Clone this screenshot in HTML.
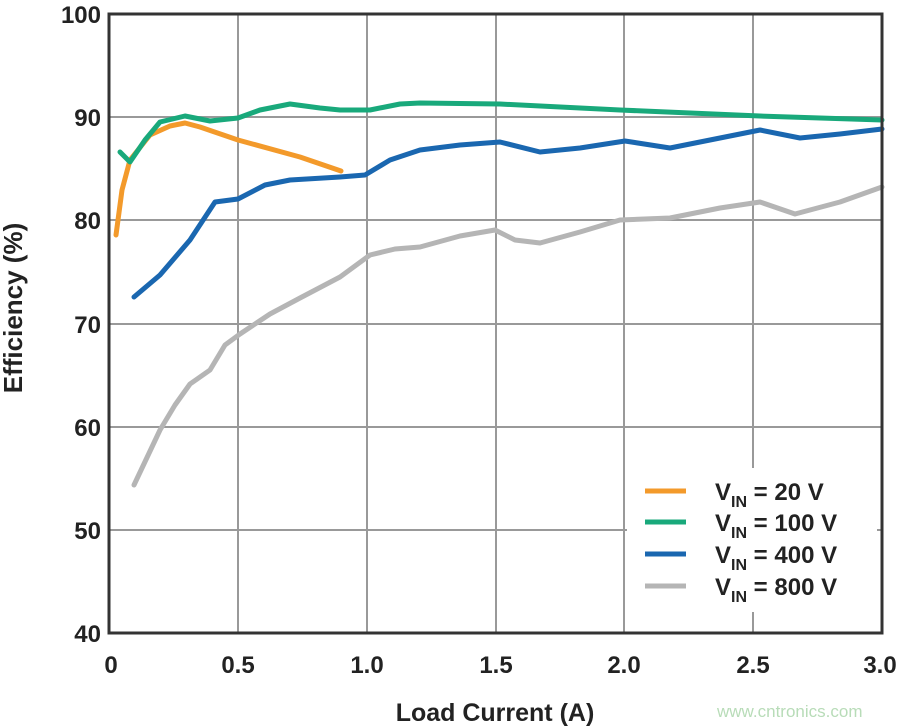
<!DOCTYPE html>
<html><head><style>body{margin:0;background:#fff}svg{display:block}</style></head><body>
<svg width="900" height="726" xmlns="http://www.w3.org/2000/svg" font-family="Liberation Sans, Arial, sans-serif" font-weight="bold">
<g stroke="#999" stroke-width="2">
<line x1="238" y1="14" x2="238" y2="633"/><line x1="367" y1="14" x2="367" y2="633"/><line x1="496" y1="14" x2="496" y2="633"/><line x1="624" y1="14" x2="624" y2="633"/><line x1="753" y1="14" x2="753" y2="633"/>
<line x1="109" y1="117" x2="882" y2="117"/><line x1="109" y1="220" x2="882" y2="220"/><line x1="109" y1="324" x2="882" y2="324"/><line x1="109" y1="427" x2="882" y2="427"/><line x1="109" y1="530" x2="882" y2="530"/>
</g>
<rect x="627" y="468" width="250" height="144" fill="#fff"/>
<g fill="none" stroke-width="5" stroke-linejoin="round" stroke-linecap="round">
<polyline stroke="#b5b5b5" points="134,485 160,430 175,405 190,384 210,370 225,345 240,334 270,314 300,298 340,277 370,255 395,249 420,247 460,236 495,230 515,240 540,243 580,232 620,220 670,218 720,208 760,202 795,214 840,202 882,187"/>
<polyline stroke="#1a67b0" points="134,297 160,275 190,240 215,202 238,199 265,185 290,180 340,177 365,175 390,160 420,150 460,145 500,142 540,152 580,148 625,141 670,148 720,138 760,130 800,138 840,134 882,129"/>
<polyline stroke="#f39a2b" points="116,235 122,190 130,160 150,135 170,126 185,123 200,127 238,140 300,157 341,171"/>
<polyline stroke="#19a97b" points="120,152 130,162 145,140 160,122 185,116 210,121 238,118 260,110 290,104 320,108 340,110 370,110 400,104 420,103 500,104 620,110 760,116 882,120"/>
</g>
<rect x="109" y="14" width="773" height="619" fill="none" stroke="#333" stroke-width="3"/>
<g font-size="24" fill="#222" text-anchor="end">
<text x="101" y="23">100</text><text x="101" y="126">90</text><text x="101" y="229">80</text><text x="101" y="333">70</text><text x="101" y="436">60</text><text x="101" y="539">50</text><text x="101" y="642">40</text>
</g>
<g font-size="24" fill="#222" text-anchor="middle">
<text x="111" y="673">0</text><text x="238" y="673">0.5</text><text x="367" y="673">1.0</text><text x="496" y="673">1.5</text><text x="624" y="673">2.0</text><text x="753" y="673">2.5</text><text x="880" y="673">3.0</text>
<text x="495" y="721" font-size="25">Load Current (A)</text>
<text transform="translate(22,308) rotate(-90)" font-size="26">Efficiency (%)</text>
</g>
<g stroke-width="5">
<line x1="645" y1="491" x2="686" y2="491" stroke="#f39a2b"/><line x1="645" y1="522" x2="686" y2="522" stroke="#19a97b"/><line x1="645" y1="554" x2="686" y2="554" stroke="#1a67b0"/><line x1="645" y1="586" x2="686" y2="586" stroke="#b5b5b5"/>
</g>
<g font-size="24" fill="#222">
<text x="715" y="500">V<tspan font-size="16" dy="7">IN</tspan><tspan dy="-7"> = 20 V</tspan></text>
<text x="715" y="531">V<tspan font-size="16" dy="7">IN</tspan><tspan dy="-7"> = 100 V</tspan></text>
<text x="715" y="563">V<tspan font-size="16" dy="7">IN</tspan><tspan dy="-7"> = 400 V</tspan></text>
<text x="715" y="595">V<tspan font-size="16" dy="7">IN</tspan><tspan dy="-7"> = 800 V</tspan></text>
</g>
<text x="717" y="717" font-size="17" font-weight="normal" fill="#b8dcb8">www.cntronics.com</text>
</svg>
</body></html>
